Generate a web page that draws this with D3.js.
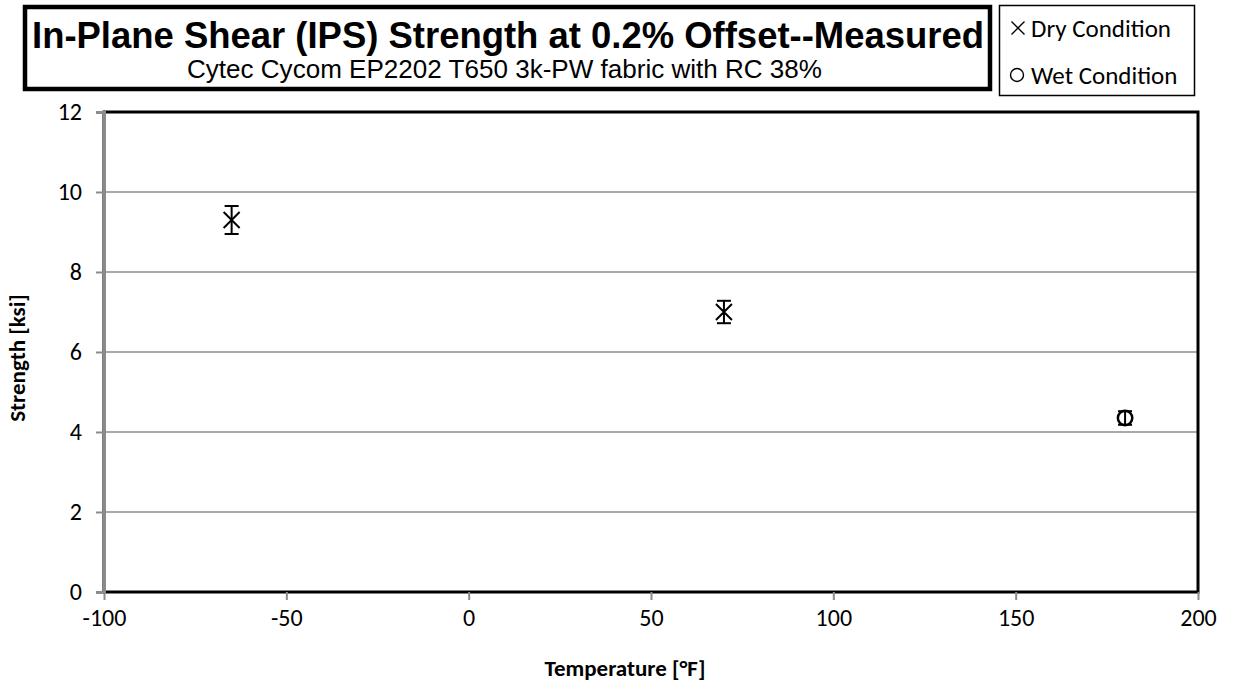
<!DOCTYPE html>
<html>
<head>
<meta charset="utf-8">
<script src="https://cdn.jsdelivr.net/npm/d3@7"></script>
<style>
  body { margin: 0; background: #fff; }
  svg { display: block; }
</style>
</head>
<body>
<svg id="chart" width="1233" height="685"></svg>
<script>
// data
var dryTemps = [-65, 70];
var dryStrength = [9.3, 7.0];
var dryErr = [0.35, 0.28];

var wetTemps = [180];
var wetStrength = [4.35];
var wetErr = [0.17];

var xTicks = [-100, -50, 0, 50, 100, 150, 200];
var yTicks = [0, 2, 4, 6, 8, 10, 12];

var titleText = "In-Plane Shear (IPS) Strength at 0.2% Offset--Measured";
var subtitleText = "Cytec Cycom EP2202 T650 3k-PW fabric with RC 38%";
var legendLabels = ["Dry Condition", "Wet Condition"];

var svg = d3.select("#chart");
var plot = { left: 104, right: 1198, top: 112, bottom: 592 };
var font = "Carlito, Calibri, 'Open Sans', sans-serif";
var arial = "'Liberation Sans', Arial, sans-serif";
var grey = "#8c8c8c";

var x = d3.scaleLinear().domain([-100, 200]).range([plot.left, plot.right]);
var y = d3.scaleLinear().domain([0, 12]).range([plot.bottom, plot.top]);

// gridlines
svg.append("g").selectAll("line")
  .data(yTicks.slice(1))
  .enter().append("line")
    .attr("x1", plot.left).attr("x2", plot.right)
    .attr("y1", function(d) { return y(d); })
    .attr("y2", function(d) { return y(d); })
    .attr("stroke", grey).attr("stroke-width", 1.5);

// plot border (left side is covered by the grey value axis)
svg.append("rect")
  .attr("x", plot.left).attr("y", plot.top)
  .attr("width", plot.right - plot.left).attr("height", plot.bottom - plot.top)
  .attr("fill", "none").attr("stroke", "#000").attr("stroke-width", 3);

// axes
var fmt = function(d) { return String(d); };
var xAxis = svg.append("g")
  .attr("transform", "translate(0," + plot.bottom + ")")
  .call(d3.axisBottom(x).tickValues(xTicks).tickSize(8).tickPadding(9).tickFormat(fmt));
var yAxis = svg.append("g")
  .attr("transform", "translate(" + plot.left + ",0)")
  .call(d3.axisLeft(y).tickValues(yTicks).tickSize(8).tickPadding(14).tickFormat(fmt));

xAxis.select(".domain").remove();
yAxis.select(".domain").attr("stroke", grey).attr("stroke-width", 3);
[xAxis, yAxis].forEach(function(a) {
  a.selectAll(".tick line").attr("stroke", grey).attr("stroke-width", 2);
  a.selectAll(".tick text").attr("fill", "#000").style("font-family", font).style("font-size", "24px");
});

// error bars
function errorBars(temps, vals, errs) {
  var g = svg.append("g").attr("stroke", "#000").attr("stroke-width", 2).attr("fill", "none");
  temps.forEach(function(t, i) {
    var cx = x(t);
    var top = y(vals[i] + errs[i]), bot = y(vals[i] - errs[i]);
    g.append("line").attr("x1", cx).attr("x2", cx).attr("y1", top).attr("y2", bot);
    g.append("line").attr("x1", cx - 7).attr("x2", cx + 7).attr("y1", top).attr("y2", top);
    g.append("line").attr("x1", cx - 7).attr("x2", cx + 7).attr("y1", bot).attr("y2", bot);
  });
}
errorBars(dryTemps, dryStrength, dryErr);
errorBars(wetTemps, wetStrength, wetErr);

// markers
function crossPath(r) {
  return "M" + (-r) + "," + (-r) + "L" + r + "," + r + "M" + (-r) + "," + r + "L" + r + "," + (-r);
}
svg.append("g").selectAll("path")
  .data(dryTemps)
  .enter().append("path")
    .attr("d", crossPath(8))
    .attr("transform", function(d, i) { return "translate(" + x(d) + "," + y(dryStrength[i]) + ")"; })
    .attr("fill", "none").attr("stroke", "#000").attr("stroke-width", 2);

svg.append("g").selectAll("circle")
  .data(wetTemps)
  .enter().append("circle")
    .attr("cx", function(d) { return x(d); })
    .attr("cy", function(d, i) { return y(wetStrength[i]); })
    .attr("r", 7.2)
    .attr("fill", "none").attr("stroke", "#000").attr("stroke-width", 2.5);

// axis titles
svg.append("text")
  .attr("x", 625).attr("y", 676)
  .attr("text-anchor", "middle")
  .style("font-family", font).style("font-size", "23px").style("font-weight", "bold")
  .text("Temperature [\u00B0F]");

svg.append("text")
  .attr("transform", "translate(25,358) rotate(-90)")
  .attr("text-anchor", "middle")
  .style("font-family", font).style("font-size", "23px").style("font-weight", "bold")
  .text("Strength [ksi]");

// title box
svg.append("rect")
  .attr("x", 25).attr("y", 7).attr("width", 965).attr("height", 82)
  .attr("fill", "#fff").attr("stroke", "#000").attr("stroke-width", 4.5);
svg.append("text")
  .attr("x", 32).attr("y", 48)
  .attr("textLength", 952).attr("lengthAdjust", "spacingAndGlyphs")
  .style("font-family", arial).style("font-size", "37px").style("font-weight", "bold")
  .text(titleText);
svg.append("text")
  .attr("x", 187).attr("y", 78)
  .attr("textLength", 635).attr("lengthAdjust", "spacingAndGlyphs")
  .style("font-family", arial).style("font-size", "25px")
  .text(subtitleText);

// legend box
svg.append("rect")
  .attr("x", 999.5).attr("y", 5.5).attr("width", 195).attr("height", 90)
  .attr("fill", "#fff").attr("stroke", "#000").attr("stroke-width", 1.5);
var legend = svg.append("g");
legend.append("path")
  .attr("d", crossPath(6.5))
  .attr("transform", "translate(1018,28)")
  .attr("fill", "none").attr("stroke", "#000").attr("stroke-width", 1.4);
legend.append("circle")
  .attr("cx", 1017).attr("cy", 75).attr("r", 6.5)
  .attr("fill", "none").attr("stroke", "#000").attr("stroke-width", 1.4);
legend.selectAll("text")
  .data(legendLabels)
  .enter().append("text")
    .attr("x", 1031)
    .attr("y", function(d, i) { return 37 + i * 47; })
    .style("font-family", font).style("font-size", "25px")
    .text(function(d) { return d; });
</script>
</body>
</html>
